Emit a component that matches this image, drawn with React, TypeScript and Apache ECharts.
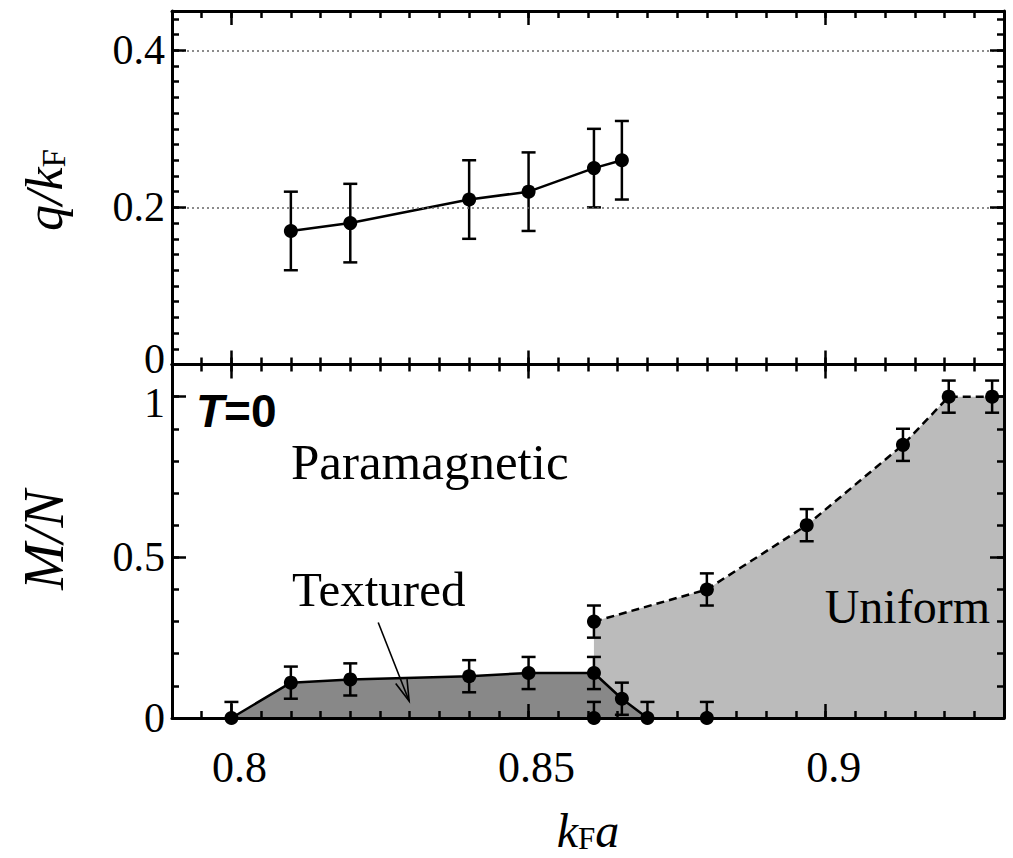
import React, { useEffect, useRef } from "react";
import * as echarts from "echarts";

// ---- axes / ticks ----
const X_MIN = 0.79;
const X_MAX = 0.93;
const xMajor = [0.8, 0.85, 0.9];
const xLabels = ["0.8", "0.85", "0.9"];
const qMajor = [0, 0.2, 0.4];
const qLabels = ["0", "0.2", "0.4"];
const qGrid = [0.2, 0.4];
const mMajor = [0, 0.5, 1];
const mLabels = ["0", "0.5", "1"];

// ---- top panel: q/kF ----
const qX = [0.81, 0.82, 0.84, 0.85, 0.861, 0.8657];
const qY = [0.17, 0.18, 0.21, 0.22, 0.25, 0.26];
const qErr = [0.05, 0.05, 0.05, 0.05, 0.05, 0.05];

// ---- bottom panel: M/N ----
const texX = [0.8, 0.81, 0.82, 0.84, 0.85, 0.861, 0.8657, 0.87];
const texY = [0, 0.11, 0.12, 0.13, 0.14, 0.14, 0.06, 0];
const texErr = [0.05, 0.05, 0.05, 0.05, 0.05, 0.05, 0.05, 0.05];

const uniX = [0.861, 0.88, 0.8968, 0.913, 0.9207, 0.928];
const uniY = [0.3, 0.4, 0.6, 0.85, 1.0, 1.0];
const uniErr = [0.05, 0.05, 0.05, 0.05, 0.05, 0.05];

const paraX = [0.861, 0.88];
const paraY = [0, 0];
const paraErr = [0.05, 0.05];

// uniform region boundary (extends to the right edge at M/N = 1)
const uniAreaX = [0.861, ...uniX, 0.93];
const uniAreaY = [0, ...uniY, 1.0];

// arrow pointing to textured region (data coords)
const arrowFrom = [0.8247, 0.297];
const arrowTo = [0.8299, 0.053];

const SERIF = "'Liberation Serif', 'Times New Roman', serif";
const SANS = "'Liberation Sans', Arial, sans-serif";

const zip = (a: number[], b: number[]) => a.map((v, i) => [v, b[i]]);
const zip3 = (a: number[], b: number[], c: number[]) => a.map((v, i) => [v, b[i], c[i]]);

const tickStyle = { color: "#000", width: 2.5 };

function xAxisDef(gridIndex: number, position: string, major: boolean, labels = false) {
  const ax: any = {
    type: "value",
    gridIndex,
    position,
    min: X_MIN,
    max: X_MAX,
    z: 10,
    axisLine: { show: major, onZero: false, lineStyle: { color: "#000", width: 3 } },
    axisTick: major
      ? { show: true, inside: true, length: 14, lineStyle: tickStyle, customValues: xMajor }
      : { show: true, inside: true, length: 7, lineStyle: tickStyle },
    axisLabel: labels
      ? {
          show: true,
          customValues: xMajor,
          formatter: (v: number) => {
            const i = xMajor.findIndex((t) => Math.abs(t - v) < 1e-9);
            return i >= 0 ? xLabels[i] : "";
          },
          margin: 27,
          padding: [0, 0, 0, 16],
          fontFamily: SERIF,
          fontSize: 44,
          lineHeight: 44,
          color: "#000",
        }
      : { show: false },
    splitLine: { show: false },
  };
  if (!major) ax.interval = 0.005;
  return ax;
}

function yAxisDef(
  gridIndex: number,
  position: string,
  max: number,
  major: boolean,
  majorVals: number[],
  minorInterval: number,
  labels: string[] | null,
  nudge: "up" | "down" | null = null,
  nudgeVal = 0
) {
  const ax: any = {
    type: "value",
    gridIndex,
    position,
    min: 0,
    max,
    z: 10,
    axisLine: { show: major, onZero: false, lineStyle: { color: "#000", width: 3 } },
    axisTick: major
      ? { show: true, inside: true, length: 14, lineStyle: tickStyle, customValues: majorVals }
      : { show: true, inside: true, length: 7, lineStyle: tickStyle },
    axisLabel: labels
      ? {
          show: true,
          customValues: majorVals,
          formatter: (v: number) => {
            const i = majorVals.findIndex((t) => Math.abs(t - v) < 1e-9);
            if (i < 0) return "";
            if (nudge && Math.abs(v - nudgeVal) < 1e-9) return `{${nudge}|${labels[i]}}`;
            return labels[i];
          },
          margin: 7,
          fontFamily: SERIF,
          fontSize: 42,
          lineHeight: 30,
          color: "#000",
          rich: {
            up: { fontFamily: SERIF, fontSize: 42, lineHeight: 30, color: "#000", padding: [0, 0, 12, 0] },
            down: { fontFamily: SERIF, fontSize: 42, lineHeight: 30, color: "#000", padding: [12, 0, 0, 0] },
          },
        }
      : { show: false },
    splitLine: { show: false },
  };
  if (!major) ax.interval = minorInterval;
  return ax;
}

const errRender = (params: any, api: any) => {
  const x = api.value(0);
  const y = api.value(1);
  const e = api.value(2);
  const lo = Math.max(y - e, 0);
  const pTop = api.coord([x, y + e]);
  const pBot = api.coord([x, lo]);
  const hw = 7;
  const style = { stroke: "#000", lineWidth: 2.5, fill: "none" };
  const children: any[] = [
    { type: "line", shape: { x1: pTop[0], y1: pTop[1], x2: pBot[0], y2: pBot[1] }, style },
    { type: "line", shape: { x1: pTop[0] - hw, y1: pTop[1], x2: pTop[0] + hw, y2: pTop[1] }, style },
  ];
  if (y - e >= -1e-9) {
    children.push({ type: "line", shape: { x1: pBot[0] - hw, y1: pBot[1], x2: pBot[0] + hw, y2: pBot[1] }, style });
  }
  return { type: "group", children };
};

const arrowRender = (params: any, api: any) => {
  const a = api.coord([api.value(0), api.value(1)]);
  const b = api.coord([api.value(2), api.value(3)]);
  const ang = Math.atan2(b[1] - a[1], b[0] - a[0]);
  const L = 22;
  const spread = 0.28;
  const h1 = [b[0] - L * Math.cos(ang - spread), b[1] - L * Math.sin(ang - spread)];
  const h2 = [b[0] - L * Math.cos(ang + spread), b[1] - L * Math.sin(ang + spread)];
  const style = { stroke: "#000", lineWidth: 1.6, fill: "none" };
  return {
    type: "group",
    children: [
      { type: "line", shape: { x1: a[0], y1: a[1], x2: b[0], y2: b[1] }, style },
      { type: "polyline", shape: { points: [h1, b, h2] }, style },
    ],
  };
};

const dot = { symbol: "circle", symbolSize: 14, itemStyle: { color: "#000", opacity: 1 } };

const option: any = {
  animation: false,
  backgroundColor: "#fff",
  grid: [
    { left: 172, top: 11, width: 832, height: 353.5, outerBoundsMode: "none", containLabel: false },
    { left: 172, top: 364.5, width: 832, height: 353.5, outerBoundsMode: "none", containLabel: false },
  ],
  xAxis: [
    xAxisDef(0, "bottom", true),
    xAxisDef(0, "bottom", false),
    xAxisDef(0, "top", true),
    xAxisDef(0, "top", false),
    xAxisDef(1, "bottom", true, true),
    xAxisDef(1, "bottom", false),
    xAxisDef(1, "top", true),
    xAxisDef(1, "top", false),
  ],
  yAxis: [
    yAxisDef(0, "left", 0.45, true, qMajor, 0.02, qLabels, "up", 0),
    yAxisDef(0, "left", 0.45, false, qMajor, 0.02, null),
    yAxisDef(0, "right", 0.45, true, qMajor, 0.02, null),
    yAxisDef(0, "right", 0.45, false, qMajor, 0.02, null),
    yAxisDef(1, "left", 1.1, true, mMajor, 0.1, mLabels, "down", 1),
    yAxisDef(1, "left", 1.1, false, mMajor, 0.1, null),
    yAxisDef(1, "right", 1.1, true, mMajor, 0.1, null),
    yAxisDef(1, "right", 1.1, false, mMajor, 0.1, null),
  ],
  series: [
    // dotted grid lines of the top panel
    {
      type: "line",
      xAxisIndex: 0,
      yAxisIndex: 0,
      data: [],
      z: 0,
      markLine: {
        silent: true,
        symbol: ["none", "none"],
        label: { show: false },
        lineStyle: { color: "#666", width: 1.5, type: [2, 3] },
        data: qGrid.map((v) => ({ yAxis: v })),
      },
    },
    {
      type: "custom",
      xAxisIndex: 0,
      yAxisIndex: 0,
      renderItem: errRender,
      encode: { x: 0, y: 1 },
      data: zip3(qX, qY, qErr),
      z: 3,
    },
    {
      type: "line",
      xAxisIndex: 0,
      yAxisIndex: 0,
      data: zip(qX, qY),
      ...dot,
      lineStyle: { color: "#000", width: 2.5 },
      z: 4,
    },
    // uniform region
    {
      type: "line",
      xAxisIndex: 4,
      yAxisIndex: 4,
      data: zip(uniAreaX, uniAreaY),
      showSymbol: false,
      lineStyle: { width: 0, color: "#bbbbbb" },
      areaStyle: { color: "#bbbbbb", opacity: 1 },
      z: 1,
    },
    // textured region
    {
      type: "line",
      xAxisIndex: 4,
      yAxisIndex: 4,
      data: zip(texX, texY),
      showSymbol: false,
      lineStyle: { width: 2.5, color: "#000" },
      areaStyle: { color: "#888888", opacity: 1 },
      z: 2,
    },
    // error bars bottom
    {
      type: "custom",
      xAxisIndex: 4,
      yAxisIndex: 4,
      renderItem: errRender,
      encode: { x: 0, y: 1 },
      data: [...zip3(texX, texY, texErr), ...zip3(uniX, uniY, uniErr), ...zip3(paraX, paraY, paraErr)],
      z: 3,
    },
    // uniform boundary (dashed)
    {
      type: "line",
      xAxisIndex: 4,
      yAxisIndex: 4,
      data: zip(uniX, uniY),
      ...dot,
      lineStyle: { color: "#000", width: 2.5, type: [8, 5] },
      z: 4,
    },
    // textured points
    {
      type: "scatter",
      xAxisIndex: 4,
      yAxisIndex: 4,
      data: zip(texX, texY),
      ...dot,
      z: 5,
    },
    // para-boundary points
    {
      type: "scatter",
      xAxisIndex: 4,
      yAxisIndex: 4,
      data: zip(paraX, paraY),
      ...dot,
      z: 5,
    },
    // arrow
    {
      type: "custom",
      xAxisIndex: 4,
      yAxisIndex: 4,
      renderItem: arrowRender,
      data: [[arrowFrom[0], arrowFrom[1], arrowTo[0], arrowTo[1]]],
      encode: { x: [0, 2], y: [1, 3] },
      z: 6,
    },
  ],
  graphic: [
    {
      type: "text",
      x: 44,
      y: 190,
      rotation: Math.PI / 2,
      style: {
        text: "{i|q/k}{s|F}",
        textAlign: "center",
        textVerticalAlign: "middle",
        rich: {
          i: { fontFamily: SERIF, fontStyle: "italic", fontSize: 52, fill: "#000" },
          s: { fontFamily: SERIF, fontSize: 33, fill: "#000", verticalAlign: "bottom" },
        },
      },
      z: 20,
    },
    {
      type: "text",
      x: 44,
      y: 540,
      rotation: Math.PI / 2,
      style: {
        text: "{i|M/N}",
        textAlign: "center",
        textVerticalAlign: "middle",
        rich: {
          i: { fontFamily: SERIF, fontStyle: "italic", fontSize: 56, fill: "#000" },
        },
      },
      z: 20,
    },
    {
      type: "text",
      x: 588,
      y: 830,
      style: {
        text: "{i|k}{s|F}{i|a}",
        textAlign: "center",
        textVerticalAlign: "middle",
        rich: {
          i: { fontFamily: SERIF, fontStyle: "italic", fontSize: 48, fill: "#000" },
          s: { fontFamily: SERIF, fontSize: 31, fill: "#000", verticalAlign: "bottom" },
        },
      },
      z: 20,
    },
    {
      type: "text",
      x: 196,
      y: 411,
      style: {
        text: "{t|T}{n|=0}",
        textVerticalAlign: "middle",
        rich: {
          t: { fontFamily: SANS, fontWeight: "bold", fontStyle: "italic", fontSize: 46, fill: "#000" },
          n: { fontFamily: SANS, fontWeight: "bold", fontSize: 46, fill: "#000" },
        },
      },
      z: 20,
    },
    {
      type: "text",
      x: 291,
      y: 462,
      style: { text: "Paramagnetic", font: `51px ${SERIF}`, fill: "#000", textVerticalAlign: "middle" },
      z: 20,
    },
    {
      type: "text",
      x: 292,
      y: 589,
      style: { text: "Textured", font: `49px ${SERIF}`, fill: "#000", textVerticalAlign: "middle" },
      z: 20,
    },
    {
      type: "text",
      x: 990,
      y: 606,
      style: {
        text: "Uniform",
        font: `48px ${SERIF}`,
        fill: "#000",
        textAlign: "right",
        textVerticalAlign: "middle",
      },
      z: 20,
    },
  ],
};

export default function App() {
  const ref = useRef<HTMLDivElement>(null);
  useEffect(() => {
    const chart = echarts.init(ref.current!, null, { renderer: "svg" });
    chart.setOption(option);
    return () => chart.dispose();
  }, []);
  return (
    <div
      ref={ref}
      style={{ position: "fixed", left: 0, top: 0, width: 1013, height: 858, background: "#fff" }}
    />
  );
}
